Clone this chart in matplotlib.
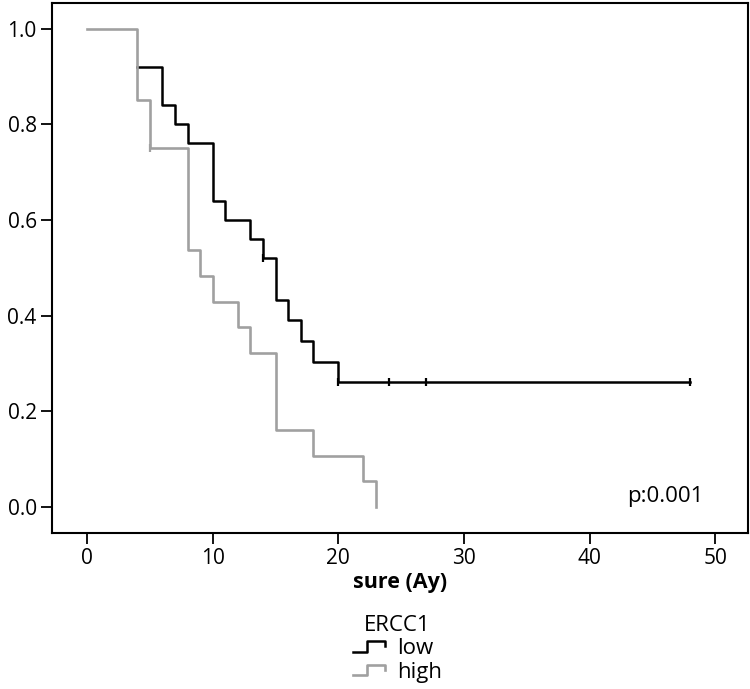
import matplotlib
matplotlib.use('Agg')
import matplotlib.pyplot as plt
from matplotlib.lines import Line2D
from matplotlib.legend_handler import HandlerBase

plt.rcParams['font.family'] = ['Open Sans', 'DejaVu Sans']

# survival steps (time, survival after the step)
low_times = [0, 4, 6, 7, 8, 10, 11, 13, 14, 15, 16, 17, 18, 20, 48]
low_surv = [1.0, 0.92, 0.84, 0.80, 0.76, 0.64, 0.60, 0.56, 0.52, 0.433, 0.39, 0.347, 0.303, 0.26, 0.26]
low_cens_t = [14, 20, 24, 27, 48]
low_cens_s = [0.52, 0.26, 0.26, 0.26, 0.26]

high_times = [0, 4, 5, 8, 9, 10, 12, 13, 15, 18, 22, 23]
high_surv = [1.0, 0.85, 0.75, 0.536, 0.482, 0.428, 0.375, 0.321, 0.161, 0.107, 0.054, 0.0]
high_cens_t = [5]
high_cens_s = [0.75]

groups = ['low', 'high']
colors = ['black', '#a0a0a0']
p_text = 'p:0.001'


class StepHandler(HandlerBase):
    # little step + censor tick, like the SPSS legend
    def create_artists(self, legend, orig, xd, yd, w, h, fontsize, trans):
        x0 = -xd
        x1 = -xd + w * 0.45
        x2 = -xd + w
        ya = -yd + h * 0.05
        yb = -yd + h * 0.95
        ym = -yd + h * 0.5
        ln = Line2D([x0, x1, x1, x2, x2], [ya, ya, yb, yb, ym], color=orig.get_color(),
                    lw=orig.get_linewidth(), transform=trans)
        return [ln]


fig = plt.figure(figsize=(7.5, 6.89), dpi=100)
ax = fig.add_axes([0.0693, 0.2269, 0.9277, 0.7692])

# the first low segment (1.0 until t=4) sits under the grey one, so start at the first drop
h_low, = ax.step(low_times[1:], low_surv[1:], where='post', color=colors[0], lw=1.8, zorder=2)
ax.plot(low_cens_t, low_cens_s, ls='none', marker='|', ms=6, mew=1.6, color=colors[0], zorder=2)
h_high, = ax.step(high_times, high_surv, where='post', color=colors[1], lw=1.9, zorder=3)
ax.plot(high_cens_t, high_cens_s, ls='none', marker='|', ms=6, mew=1.6, color=colors[1], zorder=3)

ax.set_xlim(-2.8, 52.6)
ax.set_ylim(-0.054, 1.054)
ax.set_xticks([0, 10, 20, 30, 40, 50])
ax.set_yticks([0.0, 0.2, 0.4, 0.6, 0.8, 1.0])
ax.set_yticklabels(['0.0', '0.2', '0.4', '0.6', '0.8', '1.0'])
ax.tick_params(length=8, width=1.3, labelsize=15, pad=3)
for s in ax.spines.values():
    s.set_linewidth(1.5)

ax.text(43.0, 0.021, p_text, fontsize=16, va='center', ha='left')
ax.set_xlabel('sure (Ay)', fontsize=15.5, fontweight='bold', labelpad=2)

leg = fig.legend([h_low, h_high], groups, title='ERCC1', loc='upper center',
                 bbox_to_anchor=(0.53, 0.124), frameon=False, fontsize=16,
                 title_fontsize=16, handler_map={Line2D: StepHandler()},
                 handlelength=1.45, handleheight=0.45, labelspacing=0.12,
                 handletextpad=0.55, borderpad=0.0)

fig.savefig('out.png', dpi=100)
